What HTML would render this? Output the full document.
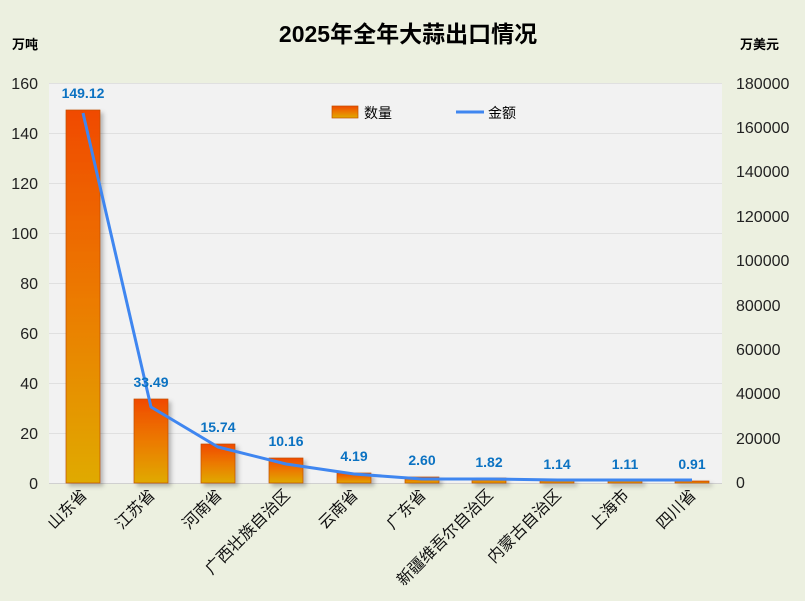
<!DOCTYPE html>
<html><head><meta charset="utf-8"><style>
body{margin:0;background:#ECF0E0;}
svg{display:block;font-family:"Liberation Sans","Noto Sans CJK SC",sans-serif;}
</style></head><body>
<svg width="805" height="601" viewBox="0 0 805 601">
<defs>
<linearGradient id="g" x1="0" y1="0" x2="0" y2="1">
<stop offset="0" stop-color="#F04A00"/><stop offset="0.5" stop-color="#EC7A00"/><stop offset="1" stop-color="#E0AA00"/>
</linearGradient>
<filter id="sh"><feDropShadow dx="3" dy="3" stdDeviation="2" flood-color="#000" flood-opacity="0.25"/></filter>
</defs>
<rect width="805" height="601" fill="#ECF0E0"/>
<rect x="49" y="83" width="673" height="400" fill="#F2F2F2"/>
<g stroke="#E0E0E0" stroke-width="1">
<line x1="49" x2="722" y1="83.5" y2="83.5"/><line x1="49" x2="722" y1="133.5" y2="133.5"/><line x1="49" x2="722" y1="183.5" y2="183.5"/><line x1="49" x2="722" y1="233.5" y2="233.5"/><line x1="49" x2="722" y1="283.5" y2="283.5"/><line x1="49" x2="722" y1="333.5" y2="333.5"/><line x1="49" x2="722" y1="383.5" y2="383.5"/><line x1="49" x2="722" y1="433.5" y2="433.5"/>
</g>
<line x1="49" x2="722" y1="483.5" y2="483.5" stroke="#D0D0D0"/>
<text x="408" y="42" text-anchor="middle" font-size="23" font-weight="bold" fill="#000">2025年全年大蒜出口情况</text>
<text x="12" y="49" font-size="13" font-weight="bold">万吨</text>
<text x="740" y="49" font-size="13" font-weight="bold">万美元</text>
<g font-size="16" fill="#222" text-anchor="end">
<text x="38" y="89">160</text><text x="38" y="139">140</text><text x="38" y="189">120</text><text x="38" y="239">100</text><text x="38" y="289">80</text><text x="38" y="339">60</text><text x="38" y="389">40</text><text x="38" y="439">20</text><text x="38" y="489">0</text>
</g>
<g font-size="16" fill="#222" text-anchor="start">
<text x="736" y="89">180000</text><text x="736" y="133">160000</text><text x="736" y="177">140000</text><text x="736" y="222">120000</text><text x="736" y="266">100000</text><text x="736" y="311">80000</text><text x="736" y="355">60000</text><text x="736" y="399">40000</text><text x="736" y="444">20000</text><text x="736" y="488">0</text>
</g>
<g fill="url(#g)" stroke="#C05000" stroke-width="0.7" filter="url(#sh)">
<rect x="66" y="110" width="34" height="373"/>
<rect x="134" y="399" width="34" height="84"/>
<rect x="201" y="444" width="34" height="39"/>
<rect x="269" y="458" width="34" height="25"/>
<rect x="337" y="473" width="34" height="10"/>
<rect x="405" y="477" width="34" height="6"/>
<rect x="472" y="478" width="34" height="5"/>
<rect x="540" y="480" width="34" height="3"/>
<rect x="608" y="480" width="34" height="3"/>
<rect x="675" y="481" width="34" height="2"/>
</g>
<polyline fill="none" stroke="#3F86F0" stroke-width="3" stroke-linejoin="round" points="83,113 151,407 218,447 286,464 354,474 422,479 489,479 557,480 625,480 692,480"/>
<g font-size="14" font-weight="bold" fill="#0B72C2" text-anchor="middle">
<text x="83" y="98">149.12</text><text x="151" y="387">33.49</text><text x="218" y="432">15.74</text><text x="286" y="446">10.16</text><text x="354" y="461">4.19</text><text x="422" y="465">2.60</text><text x="489" y="467">1.82</text><text x="557" y="469">1.14</text><text x="625" y="469">1.11</text><text x="692" y="469">0.91</text>
</g>
<rect x="332" y="106" width="26" height="12" fill="url(#g)" stroke="#C05000" stroke-width="0.7"/>
<text x="364" y="118" font-size="14">数量</text>
<line x1="456" x2="484" y1="112" y2="112" stroke="#3F86F0" stroke-width="3"/>
<text x="488" y="118" font-size="14">金额</text>
<g font-size="16" fill="#111" text-anchor="end">
<text transform="translate(88,496) rotate(-45)">山东省</text>
<text transform="translate(156,496) rotate(-45)">江苏省</text>
<text transform="translate(223,496) rotate(-45)">河南省</text>
<text transform="translate(291,496) rotate(-45)">广西壮族自治区</text>
<text transform="translate(359,496) rotate(-45)">云南省</text>
<text transform="translate(427,496) rotate(-45)">广东省</text>
<text transform="translate(494,496) rotate(-45)">新疆维吾尔自治区</text>
<text transform="translate(562,496) rotate(-45)">内蒙古自治区</text>
<text transform="translate(630,496) rotate(-45)">上海市</text>
<text transform="translate(697,496) rotate(-45)">四川省</text>
</g>
</svg>
</body></html>
